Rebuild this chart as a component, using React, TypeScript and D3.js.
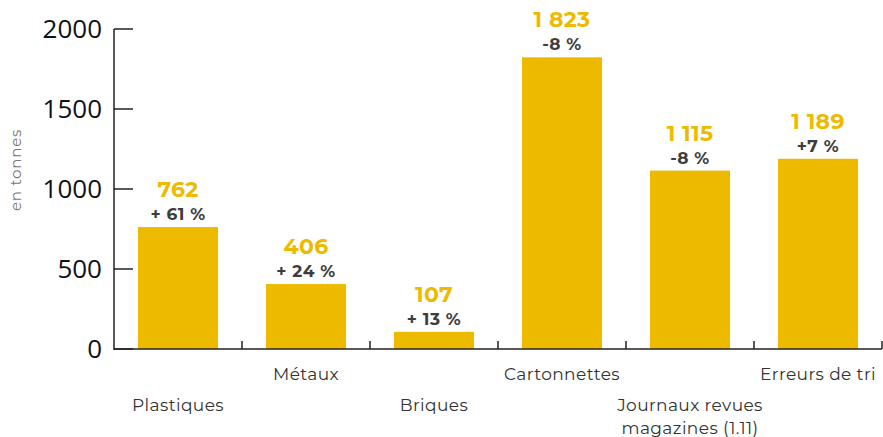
import React from "react";
import * as d3 from "d3";

const categories = ["Plastiques", "Métaux", "Briques", "Cartonnettes", "Journaux revues magazines (1.11)", "Erreurs de tri"];
const categoryLines = [["Plastiques"], ["Métaux"], ["Briques"], ["Cartonnettes"], ["Journaux revues", "magazines (1.11)"], ["Erreurs de tri"]];
const values = [762, 406, 107, 1823, 1115, 1189];
const valueLabels = ["762", "406", "107", "1 823", "1 115", "1 189"];
const changeLabels = ["+ 61 %", "+ 24 %", "+ 13 %", "-8 %", "-8 %", "+7 %"];
const yTicks = [0, 500, 1000, 1500, 2000];

export default function App() {
  const W = 883, H = 437;
  const left = 114, right = 882, zero = 349, top = 29;
  const x = d3.scaleBand<string>().domain(categories).range([left, right]).paddingInner(0.375).paddingOuter(0.1875);
  const band = d3.scaleBand<string>().domain(categories).range([left, right]);
  const y = d3.scaleLinear().domain([0, 2000]).range([zero, top]);
  const yellow = "#EDBA00";
  const font = "Montserrat, 'Open Sans', 'Noto Sans', sans-serif";
  return (
    <svg width={W} height={H} style={{ position: "absolute", left: 0, top: 0 }}>
      <rect width={W} height={H} fill="#fff" />
      {categories.map((c, i) => (
        <rect key={c} x={x(c)} y={y(values[i])} width={x.bandwidth()} height={zero - y(values[i])} fill={yellow} />
      ))}
      {/* y axis */}
      <line x1={left} x2={left} y1={top} y2={zero + 1} stroke="#222" strokeWidth={1.5} />
      {yTicks.map((t) => (
        <g key={t}>
          <line x1={left} x2={left + 19} y1={y(t)} y2={y(t)} stroke="#222" strokeWidth={1.5} />
          <text x={left - 12} y={y(t)} dy="0.36em" textAnchor="end" fontSize={26} fontFamily="'Open Sans', sans-serif" fill="#111">{t}</text>
        </g>
      ))}
      {/* x axis */}
      <line x1={left} x2={right} y1={zero} y2={zero} stroke="#222" strokeWidth={1.5} />
      {categories.map((c) => (
        <line key={c} x1={(band(c) as number) + band.bandwidth()} x2={(band(c) as number) + band.bandwidth()} y1={zero} y2={zero - 8} stroke="#222" strokeWidth={1.5} />
      ))}
      <text transform={`translate(21,170) rotate(-90)`} textAnchor="middle" fontSize={15} letterSpacing={0.8} fill="#777" fontFamily={font}>en tonnes</text>
      {categories.map((c, i) => {
        const cx = (band(c) as number) + band.bandwidth() / 2;
        const by = i % 2 === 0 ? 411 : 380;
        return (
          <g key={c}>
            <text x={cx} y={y(values[i]) - 30} textAnchor="middle" fontSize={22} fontWeight={700} letterSpacing={0.3} fill={yellow} fontFamily={font}>{valueLabels[i]}</text>
            <text x={cx} y={y(values[i]) - 7} textAnchor="middle" fontSize={17} fontWeight={700} letterSpacing={0.5} fill="#3d3d3d" fontFamily={font}>{changeLabels[i]}</text>
            {categoryLines[i].map((l, k) => (
              <text key={k} x={cx} y={by + k * 23} textAnchor="middle" fontSize={17} letterSpacing={0.4} fill="#333" fontFamily={font}>{l}</text>
            ))}
          </g>
        );
      })}
    </svg>
  );
}
